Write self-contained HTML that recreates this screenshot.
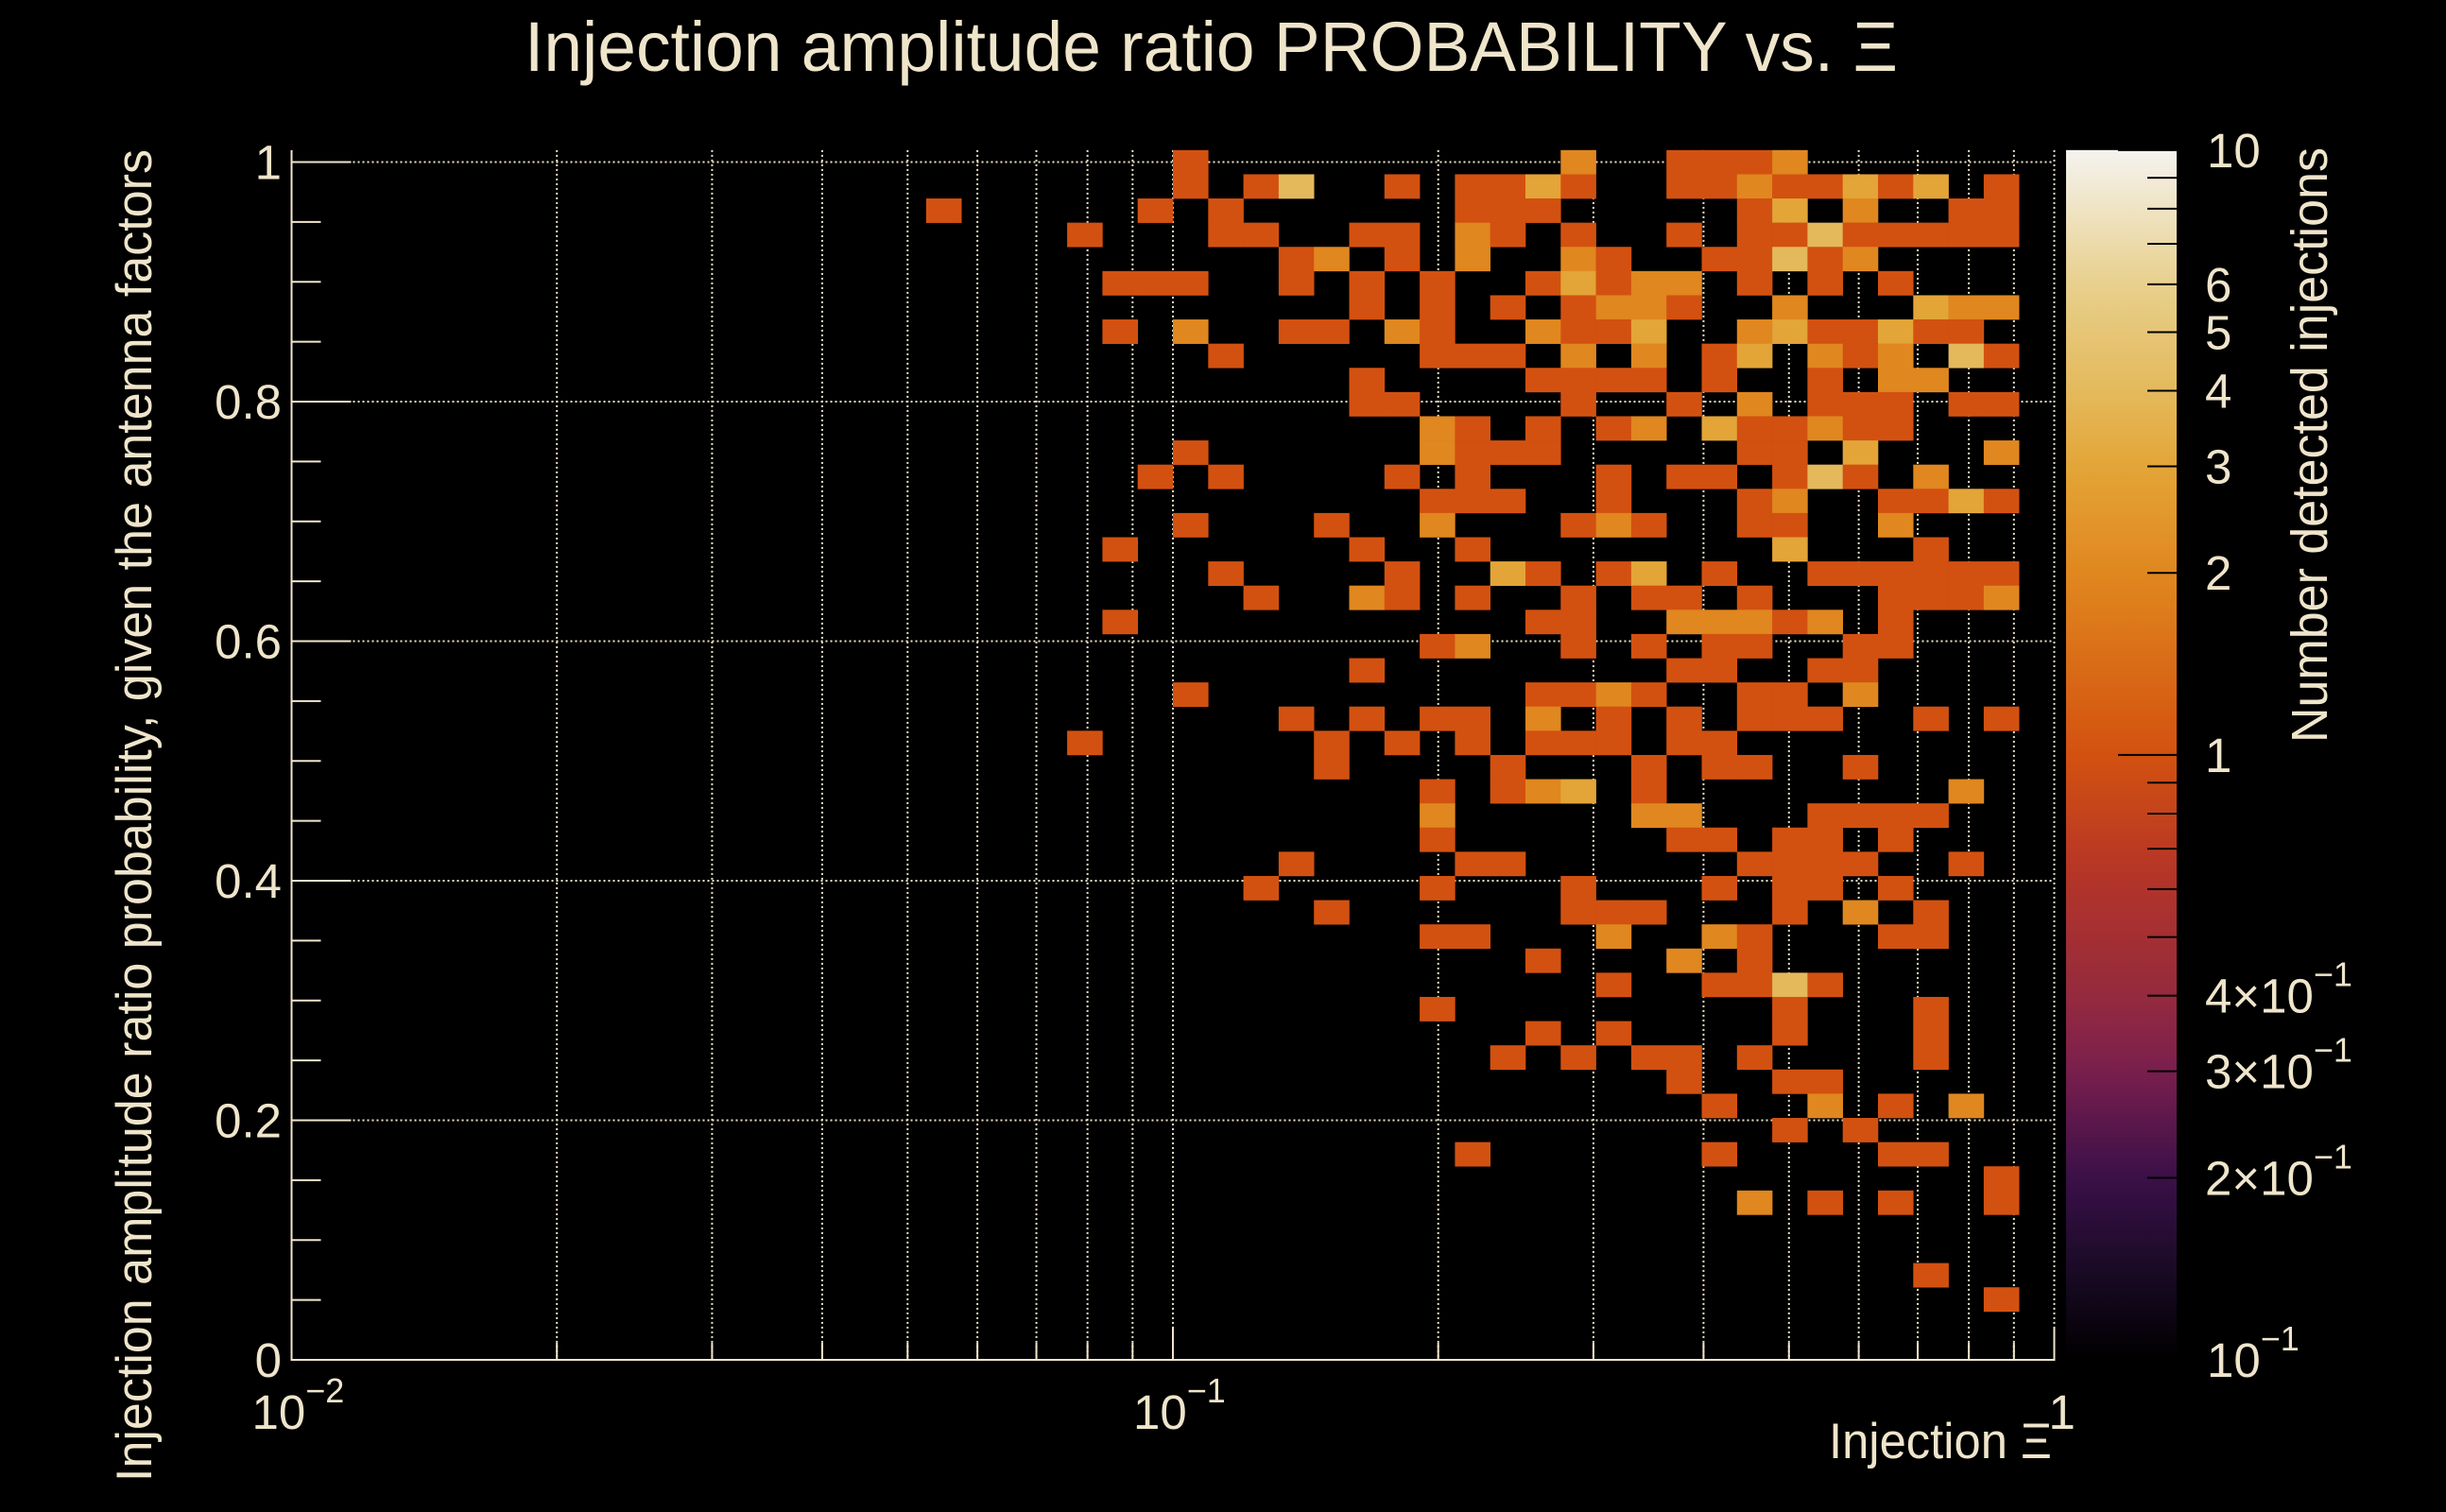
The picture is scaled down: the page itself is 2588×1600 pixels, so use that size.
<!DOCTYPE html>
<html>
<head>
<meta charset="utf-8">
<style>
  html, body { margin: 0; padding: 0; background: #000; }
  svg { display: block; }
  text { font-family: "Liberation Sans", "DejaVu Sans", sans-serif; fill: #efe5cb; }
</style>
</head>
<body>
<svg id="chart" width="2588" height="1600" viewBox="0 0 2588 1600" xmlns="http://www.w3.org/2000/svg">
  <rect x="0" y="0" width="2588" height="1600" fill="#000"/>
  <defs>
    <linearGradient id="cbgrad" x1="0" y1="1" x2="0" y2="0"></linearGradient>
  </defs>
  <g id="grid"></g>
  <g id="cells"></g>
  <g id="axes"></g>
  <g id="colorbar"></g>

  <text x="555" y="75" font-size="74" textLength="1453" lengthAdjust="spacingAndGlyphs">Injection amplitude ratio PROBABILITY vs.  Ξ</text>
  <text transform="translate(160,1568) rotate(-90)" x="0" y="0" font-size="53" textLength="1410" lengthAdjust="spacingAndGlyphs">Injection amplitude ratio probability, given the antenna factors</text>
  <text x="1935" y="1543" font-size="53" textLength="236" lengthAdjust="spacingAndGlyphs">Injection Ξ</text>
  <text transform="translate(2462,786) rotate(-90)" x="0" y="0" font-size="54" textLength="630" lengthAdjust="spacingAndGlyphs">Number detected injections</text>
</svg>
<script>
// ---- Data ----
// Binning: 50 log-spaced bins in x over [0.01, 1]; 50 bins in y over [0, 1.01]
const xLogMin = -2, xLogMax = 0, nXBins = 50;
const yMin = 0, yMax = 1.01, nYBins = 50;
// Non-empty bins, listed by row from top (row 0 = highest y bin): "xbin:count"
const binCountsByRow = [
  "25:1 36:2 39:1 40:1 41:1 42:2",
  "25:1 27:1 28:4 31:1 33:1 34:1 35:3 36:1 39:1 40:1 41:2 42:1 43:1 44:3 45:1 46:3 48:1",
  "18:1 24:1 26:1 33:1 34:1 35:1 41:1 42:3 44:2 47:1 48:1",
  "22:1 26:1 27:1 30:1 31:1 33:2 34:1 36:1 39:1 41:1 42:1 43:4 44:1 45:1 46:1 47:1 48:1",
  "28:1 29:2 31:1 33:2 36:2 37:1 40:1 41:1 42:4 43:1 44:2",
  "23:1 24:1 25:1 28:1 30:1 32:1 35:1 36:3 37:1 38:2 39:2 41:1 43:1 45:1",
  "30:1 32:1 34:1 36:1 37:2 38:2 39:1 42:2 46:3 47:2 48:2",
  "23:1 25:2 28:1 29:1 31:2 32:1 35:2 36:1 37:1 38:3 41:2 42:3 43:1 44:1 45:3 46:1 47:1",
  "26:1 32:1 33:1 34:1 36:2 38:2 40:1 41:3 43:2 44:1 45:2 47:4 48:1",
  "30:1 35:1 36:1 37:1 38:1 40:1 43:1 45:2 46:2",
  "30:1 31:1 36:1 39:1 41:2 43:1 44:1 45:1 47:1 48:1",
  "32:2 33:1 35:1 37:1 38:2 40:3 41:1 42:1 43:2 44:1 45:1",
  "25:1 32:2 33:1 34:1 35:1 41:1 42:1 44:3 48:2",
  "24:1 26:1 31:1 33:1 37:1 39:1 40:1 42:1 43:4 44:1 46:2",
  "32:1 33:1 34:1 37:1 41:1 42:2 45:1 46:1 47:3 48:1",
  "25:1 29:1 32:2 36:1 37:2 38:1 41:1 42:1 45:2",
  "23:1 30:1 33:1 42:3 46:1",
  "26:1 31:1 34:3 35:1 37:1 38:3 40:1 43:1 44:1 45:1 46:1 47:1 48:1",
  "27:1 30:2 31:1 33:1 36:1 38:1 39:1 41:1 45:1 46:1 47:1 48:2",
  "23:1 35:1 36:1 39:2 40:2 41:2 42:1 43:2 45:1",
  "32:1 33:2 36:1 38:1 40:1 41:1 44:1 45:1",
  "30:1 39:1 40:1 43:1 44:1",
  "25:1 35:1 36:1 37:2 38:1 41:1 42:1 44:2",
  "28:1 30:1 32:1 33:1 35:2 37:1 39:1 41:1 42:1 43:1 46:1 48:1",
  "22:1 29:1 31:1 33:1 35:1 36:1 37:1 39:1 40:1",
  "29:1 34:1 38:1 40:1 41:1 44:1",
  "32:1 34:1 35:2 36:3 38:1 47:2",
  "32:2 38:2 39:2 43:1 44:1 45:1 46:1",
  "32:1 39:1 40:1 42:1 43:1 45:1",
  "28:1 33:1 34:1 41:1 42:1 43:1 44:1 47:1",
  "27:1 32:1 36:1 40:1 42:1 43:1 45:1",
  "29:1 36:1 37:1 38:1 42:1 44:2 46:1",
  "32:1 33:1 37:2 40:2 41:1 45:1 46:1",
  "35:1 39:2 41:1",
  "37:1 40:1 41:1 42:4 43:1",
  "32:1 42:1 46:1",
  "35:1 37:1 42:1 46:1",
  "34:1 36:1 38:1 39:1 41:1 46:1",
  "39:1 42:1 43:1",
  "40:1 43:2 45:1 47:2",
  "42:1 44:1",
  "33:1 40:1 45:1 46:1",
  "48:1",
  "41:2 43:1 45:1 48:1",
  "", "", "46:1", "48:1", "", ""
];
const xGridValues = [0.02,0.03,0.04,0.05,0.06,0.07,0.08,0.09,0.1,0.2,0.3,0.4,0.5,0.6,0.7,0.8,0.9,1];
const xTickLabelValues = [0.01, 0.1, 1];
const xTickLabelText = [["10","\u22122"],["10","\u22121"],["1",""]];
const yTickValues = [0,0.2,0.4,0.6,0.8,1];
const yTickLabels = ["0","0.2","0.4","0.6","0.8","1"];
const zMin = 0.1, zMax = 10;
const zTickLabelValues = [10,6,5,4,3,2,1,0.4,0.3,0.2,0.1];
const zTickLabelText = [["10",""],["6",""],["5",""],["4",""],["3",""],["2",""],["1",""],["4\u00d710","\u22121"],["3\u00d710","\u22121"],["2\u00d710","\u22121"],["10","\u22121"]];
const zMinorTicks = [0.2,0.3,0.4,0.5,0.6,0.7,0.8,0.9,2,3,4,5,6,7,8,9];
const zMajorTicks = [1,10];

// Parse sparse bins into parallel arrays
const cellXBin = [], cellYBin = [], cellCount = [];
binCountsByRow.forEach(function (rowStr, r) {
  rowStr.trim().split(/\s+/).filter(Boolean).forEach(function (tok) {
    const p = tok.split(":");
    cellXBin.push(+p[0]);
    cellYBin.push(nYBins - 1 - r);
    cellCount.push(+p[1]);
  });
});

// ---- Layout / scales ----
const PL = 308.5, PR = 2173.5, PB = 1439, PT = PB - 1267.5 * yMax;
function xScale(v) { return PL + (Math.log10(v) - xLogMin) / (xLogMax - xLogMin) * (PR - PL); }
function xScaleLog(lv) { return PL + (lv - xLogMin) / (xLogMax - xLogMin) * (PR - PL); }
function yScale(v) { return PB - (v - yMin) / (yMax - yMin) * (PB - PT); }
const CB_X0 = 2186, CB_X1 = 2303;
function zScale(v) { return PB - (Math.log10(v) - Math.log10(zMin)) / (Math.log10(zMax) - Math.log10(zMin)) * (PB - PT); }

// colour map: [log10 value, colour]
const cmapStops = [
  [-1, [0,0,0]], [-0.85, [26,10,38]], [-0.7, [58,16,72]], [-0.52, [123,31,78]],
  [-0.4, [148,42,62]], [-0.2, [180,52,40]], [0, [211,81,16]], [0.301, [224,135,31]],
  [0.477, [227,165,55]], [0.602, [228,185,92]], [0.778, [232,208,140]], [1, [245,243,239]]
];
function colorFor(v) {
  const lv = Math.max(-1, Math.min(1, Math.log10(v)));
  for (let i = 0; i < cmapStops.length - 1; i++) {
    const a = cmapStops[i], b = cmapStops[i + 1];
    if (lv <= b[0]) {
      const t = (lv - a[0]) / (b[0] - a[0]);
      const c = a[1].map(function (ca, k) { return Math.round(ca + (b[1][k] - ca) * t); });
      return "rgb(" + c.join(",") + ")";
    }
  }
  return "rgb(245,243,239)";
}

const NS = "http://www.w3.org/2000/svg";
function mk(tag, attrs, parent) {
  const e = document.createElementNS(NS, tag);
  for (const k in attrs) e.setAttribute(k, attrs[k]);
  parent.appendChild(e);
  return e;
}
const CREAM = "#efe5cb";

// ---- Grid ----
const gGrid = document.getElementById("grid");
xGridValues.forEach(function (v) {
  const x = xScale(v);
  const l = mk("line", { x1: x, x2: x, y1: PT, y2: PB, stroke: CREAM, "stroke-width": 2, "stroke-dasharray": "2 3" }, gGrid);
  
  
});
yTickValues.slice(1).forEach(function (v) {
  const y = yScale(v);
  const l = mk("line", { x1: PL, x2: PR, y1: y, y2: y, stroke: CREAM, "stroke-width": 2, "stroke-dasharray": "2 3" }, gGrid);
  
  
});

// ---- Cells ----
const gCells = document.getElementById("cells");
const xBinW = (xLogMax - xLogMin) / nXBins, yBinH = (yMax - yMin) / nYBins;
for (let i = 0; i < cellCount.length; i++) {
  const x0 = xScaleLog(xLogMin + cellXBin[i] * xBinW);
  const x1 = xScaleLog(xLogMin + (cellXBin[i] + 1) * xBinW);
  const y1 = yScale(yMin + cellYBin[i] * yBinH);
  const y0 = yScale(yMin + (cellYBin[i] + 1) * yBinH);
  const r = mk("rect", { x: x0, y: y0, width: x1 - x0 + 0.3, height: y1 - y0 + 0.3, fill: colorFor(cellCount[i]) }, gCells);
  
  
}

// ---- Axes ----
const gAxes = document.getElementById("axes");
let a1 = mk("line", { x1: PL, x2: PL, y1: PT, y2: PB + 1, stroke: CREAM, "stroke-width": 2 }, gAxes);


let a2 = mk("line", { x1: PL - 1, x2: PR + 1, y1: PB, y2: PB, stroke: CREAM, "stroke-width": 2 }, gAxes);



for (let k = 0; k <= 20; k++) {
  const v = k * 0.05;
  const y = yScale(v);
  const len = (k % 4 === 0) ? 63 : 31;
  const t = mk("line", { x1: PL, x2: PL + len, y1: y, y2: y, stroke: CREAM, "stroke-width": 2 }, gAxes);
  
  
}
xGridValues.forEach(function (v) {
  const x = xScale(v);
  const major = Math.abs(Math.log10(v) - Math.round(Math.log10(v))) < 1e-6;
  const t = mk("line", { x1: x, x2: x, y1: PB, y2: PB - (major ? 35 : 18), stroke: CREAM, "stroke-width": 2 }, gAxes);
  
  
});

yTickValues.forEach(function (v, i) {
  const t = mk("text", { x: 298, y: yScale(v) + 18, "font-size": 51, "text-anchor": "end" }, gAxes);
  t.textContent = yTickLabels[i];
  
  
});

xTickLabelValues.forEach(function (v, i) {
  const x = xScale(v);
  const lab = xTickLabelText[i];
  const t = mk("text", { x: lab[1] ? x - 42 : x - 6, y: 1512, "font-size": 51 }, gAxes);
  t.textContent = lab[0];
  if (lab[1]) {
    const s = mk("tspan", { dy: -28, "font-size": 36 }, t);
    s.textContent = lab[1];
  }
  
  
});

// ---- Colour bar ----
const grad = document.getElementById("cbgrad");
for (let k = 0; k <= 40; k++) {
  const lv = -1 + k * 0.05;
  mk("stop", { offset: (k / 40), "stop-color": colorFor(Math.pow(10, lv)) }, grad);
}
const gCb = document.getElementById("colorbar");
const cbr = mk("rect", { x: CB_X0, y: zScale(zMax), width: CB_X1 - CB_X0, height: zScale(zMin) - zScale(zMax), fill: "url(#cbgrad)" }, gCb);


zMinorTicks.forEach(function (v) {
  const y = zScale(v);
  const t = mk("line", { x1: CB_X1 - 31, x2: CB_X1, y1: y, y2: y, stroke: "#000", "stroke-width": 2 }, gCb);
  
  
});
zMajorTicks.forEach(function (v) {
  const y = zScale(v);
  const t = mk("line", { x1: CB_X1 - 62, x2: CB_X1, y1: y, y2: y, stroke: "#000", "stroke-width": 2 }, gCb);
  
  
});
zTickLabelValues.forEach(function (v, i) {
  const lab = zTickLabelText[i];
  const t = mk("text", { x: v === 10 || v === 0.1 ? 2335 : 2333, y: zScale(v) + 18, "font-size": 51 }, gCb);
  t.textContent = lab[0];
  if (lab[1]) {
    const s = mk("tspan", { dy: -28, "font-size": 36 }, t);
    s.textContent = lab[1];
  }
  
  
});
</script>
</body>
</html>
